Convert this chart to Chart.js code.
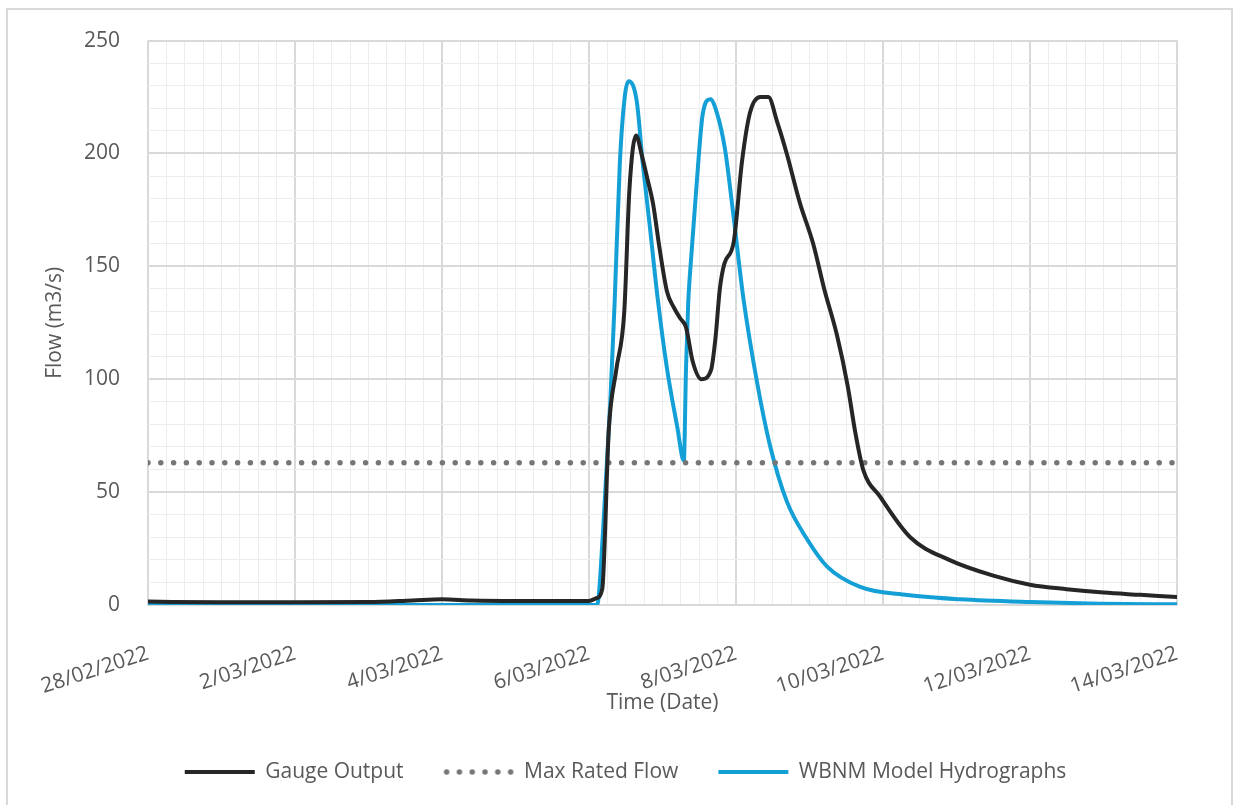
<!DOCTYPE html>
<html>
<head>
<meta charset="utf-8">
<script src="https://cdn.jsdelivr.net/npm/chart.js@4"></script>
<style>
    body { margin: 0; background: #ffffff; }
    #wrap { position: relative; width: 1233px; height: 805px; }
    #frame {
        position: absolute; left: 6px; top: 8px; width: 1223px; height: 805px;
        border-left: 2px solid #d9d9d9; border-top: 2px solid #d9d9d9; border-right: 2px solid #d9d9d9;
    }
    #myChart { position: absolute; left: 0; top: 0; }
</style>
</head>
<body>
<div id="wrap">
    <div id="frame"></div>
    <canvas id="myChart" width="1233" height="805"></canvas>
</div>
<script>
// x = 距 28/02/2022 00:00 的天數
let dateLabels = ['28/02/2022', '2/03/2022', '4/03/2022', '6/03/2022', '8/03/2022', '10/03/2022', '12/03/2022', '14/03/2022']

let gaugeDays = [0, 1, 2, 3, 3.6, 4.0, 4.4, 5, 6, 6.1, 6.18, 6.27, 6.37, 6.48, 6.55, 6.64, 6.72, 6.8, 6.87, 6.96, 7.06, 7.15, 7.24, 7.32, 7.41, 7.53, 7.66, 7.72, 7.78, 7.84, 7.97, 8.08, 8.19, 8.33, 8.44, 8.56, 8.69, 8.87, 9.05, 9.2, 9.37, 9.52, 9.62, 9.73, 9.96, 10.37, 10.9, 11.5, 12, 12.5, 13, 13.5, 14]
let gaugeFlow = [1.5, 1.2, 1.2, 1.3, 2, 2.5, 2, 1.8, 1.8, 3, 7, 78, 104, 130, 184, 208, 199, 188, 178, 158, 139, 132, 127, 123, 108, 100, 104, 118, 140, 151, 161, 196, 218, 225, 225, 214, 200, 178, 160, 140, 120, 97, 77, 60, 48, 30, 20, 13, 9, 7, 5.5, 4.5, 3.5]

let modelDays = [0, 6.11, 6.19, 6.29, 6.35, 6.42, 6.49, 6.54, 6.65, 6.73, 6.83, 6.93, 7.06, 7.2, 7.29, 7.32, 7.35, 7.37, 7.47, 7.55, 7.65, 7.74, 7.85, 7.96, 8.1, 8.29, 8.46, 8.69, 8.97, 9.24, 9.69, 10.33, 11.05, 12, 12.95, 14]
let modelFlow = [0, 0, 32, 90, 135, 196, 226, 232, 223, 196, 167, 137, 105, 79, 64, 105, 134, 145, 189, 218, 224, 218, 202, 174, 136, 98, 71, 46, 29, 17, 8, 4.4, 2.5, 1.3, 0.6, 0.3]

let maxRatedFlow = 63
let xRange = [0, 14]
let yRange = [0, 250]

let textColor = '#595959'
let fontFamily = "'Open Sans', sans-serif"


function toPoints(xArr, yArr){
    let points = []
    for (let i=0; i<xArr.length; i++){
        points.push({x: xArr[i], y: yArr[i]})
    }
    return points
}


// 圖例小圖：用 dataset 的線寬、顏色、虛線畫一段 70px 的線
function legendSwatch(dataset){
    let c = document.createElement('canvas')
    c.width = 72
    c.height = 10
    let g = c.getContext('2d')
    g.strokeStyle = dataset.borderColor
    g.lineWidth = dataset.borderWidth
    g.lineCap = dataset.borderCapStyle || 'butt'
    g.setLineDash(dataset.borderDash || [])
    g.beginPath()
    g.moveTo(dataset.borderDash ? 4 : 1, 5)
    g.lineTo(71, 5)
    g.stroke()
    return c
}


function newChart(){
    let canvasNew = document.querySelector('#myChart').getContext('2d')

    new Chart(canvasNew, {
        type: 'line',
        data: {
            datasets: [
                {
                    label: 'Gauge Output',
                    data: toPoints(gaugeDays, gaugeFlow),
                    borderColor: '#262626',
                    backgroundColor: '#262626',
                    borderWidth: 4,
                    cubicInterpolationMode: 'monotone',
                },
                {
                    label: 'Max Rated Flow',
                    data: toPoints(xRange, [maxRatedFlow, maxRatedFlow]),
                    borderColor: '#767676',
                    backgroundColor: '#767676',
                    borderWidth: 5.5,
                    borderDash: [0, 12.8],
                    borderCapStyle: 'round',
                },
                {
                    label: 'WBNM Model Hydrographs',
                    data: toPoints(modelDays, modelFlow),
                    borderColor: '#14a0d6',
                    backgroundColor: '#14a0d6',
                    borderWidth: 4,
                    cubicInterpolationMode: 'monotone',
                },
            ]
        },
        options: {
            responsive: false,
            animation: false,
            events: [],
            font: {
                family: fontFamily,
            },
            elements: {
                point: {
                    radius: 0,
                    hoverRadius: 0,
                },
                line: {
                    borderJoinStyle: 'round',
                }
            },
            layout: {
                padding: {left: 74, right: 56, top: 38, bottom: 12.5}
            },
            scales: {
                x: {
                    type: 'linear',
                    min: xRange[0],
                    max: xRange[1],
                    afterFit: (scale) => { scale.height = 116.5 },
                    title: {
                        display: true,
                        text: 'Time (Date)',
                        color: textColor,
                        font: {size: 21, family: fontFamily},
                        padding: {top: 0, bottom: 6},
                    },
                    ticks: {
                        stepSize: 0.25,
                        autoSkip: false,
                        maxTicksLimit: 100,
                        minRotation: 18,
                        maxRotation: 18,
                        padding: 36,
                        color: textColor,
                        font: {size: 21, family: fontFamily},
                        callback: (value) => {
                            if (value % 2 != 0){
                                return ''
                            }
                            return dateLabels[value / 2]
                        }
                    },
                    grid: {
                        drawTicks: false,
                        color: (ctx) => (ctx.tick && ctx.tick.value % 2 == 0) ? '#d9d9d9' : '#ededed',
                        lineWidth: (ctx) => (ctx.tick && ctx.tick.value % 2 == 0) ? 2 : 1,
                    },
                    border: {
                        color: '#d9d9d9',
                        width: 2,
                    },
                },
                y: {
                    min: yRange[0],
                    max: yRange[1],
                    afterFit: (scale) => { scale.width = 74 },
                    title: {
                        display: true,
                        text: 'Flow (m3/s)',
                        color: textColor,
                        font: {size: 21, family: fontFamily},
                        padding: {top: -31.6, bottom: 0},
                    },
                    ticks: {
                        stepSize: 10,
                        autoSkip: false,
                        maxTicksLimit: 100,
                        padding: 28,
                        color: textColor,
                        font: {size: 21, family: fontFamily},
                        callback: (value) => (value % 50 == 0) ? value : '',
                    },
                    grid: {
                        drawTicks: false,
                        color: (ctx) => (ctx.tick && ctx.tick.value % 50 == 0) ? '#d9d9d9' : '#ededed',
                        lineWidth: (ctx) => (ctx.tick && ctx.tick.value % 50 == 0) ? 2 : 1,
                    },
                    border: {
                        display: false,
                    },
                },
            },
            plugins: {
                legend: {
                    position: 'bottom',
                    labels: {
                        usePointStyle: true,
                        pointStyleWidth: 70,
                        padding: 40,
                        color: textColor,
                        font: {size: 21, family: fontFamily},
                        generateLabels: (chart) => {
                            let items = Chart.defaults.plugins.legend.labels.generateLabels(chart)
                            items.forEach(item => {
                                item.pointStyle = legendSwatch(chart.data.datasets[item.datasetIndex])
                            })
                            return items
                        }
                    }
                },
                tooltip: {
                    enabled: false,
                },
            },
        }
    })
}


newChart()
</script>
</body>
</html>
